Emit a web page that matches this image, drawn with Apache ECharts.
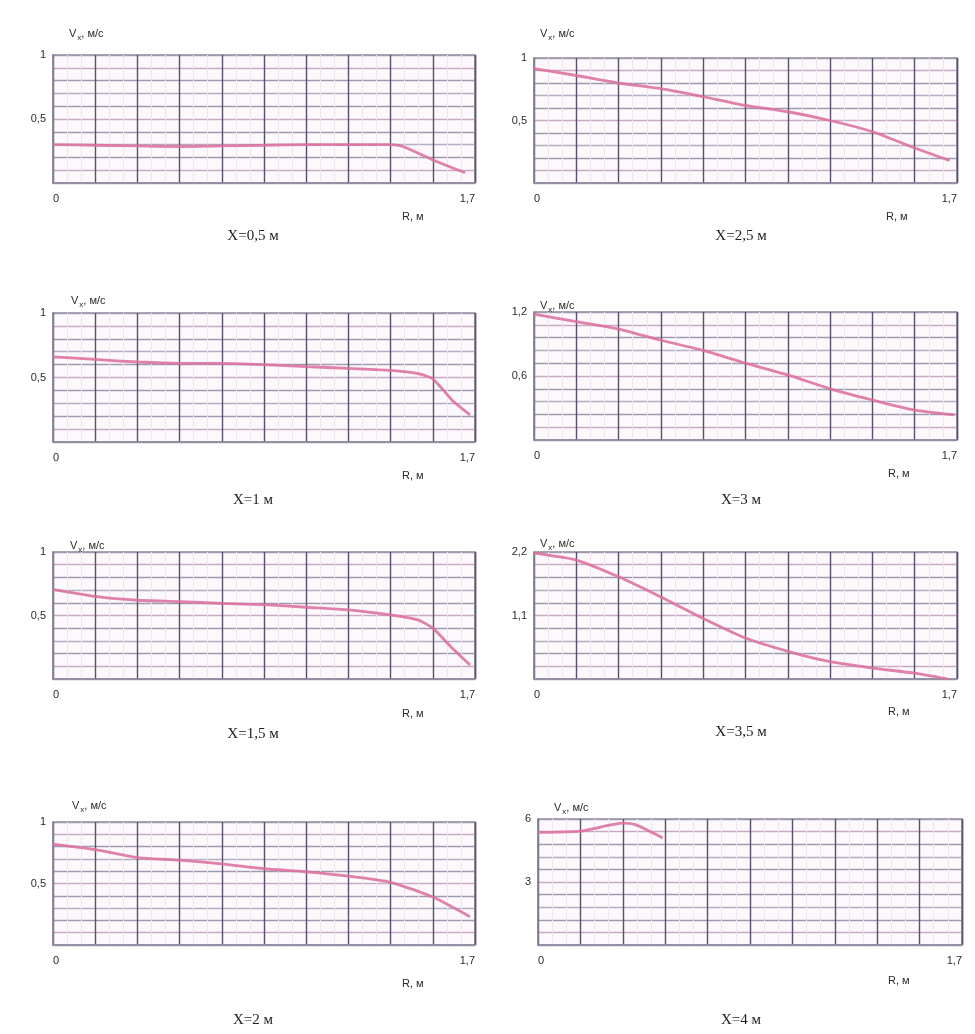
<!DOCTYPE html>
<html>
<head>
<meta charset="utf-8">
<script src="https://cdn.jsdelivr.net/npm/echarts@6/dist/echarts.min.js"></script>
<style>
  html, body { margin: 0; padding: 0; background: #fff; }
  #chart { width: 975px; height: 1034px; }
</style>
</head>
<body>
<div id="chart"></div>
<script>
// Axial velocity profiles Vx(R) at eight distances X along the duct.
const panelTitles = ['X=0,5 м', 'X=2,5 м', 'X=1 м', 'X=3 м', 'X=1,5 м', 'X=3,5 м', 'X=2 м', 'X=4 м'];

// Radius R, м, and velocity Vx, м/с, for each section
const rX05 = [0, 0.17, 0.34, 0.51, 0.68, 0.85, 1.02, 1.19, 1.36, 1.41, 1.53, 1.66];
const vX05 = [0.30, 0.295, 0.29, 0.285, 0.29, 0.295, 0.30, 0.30, 0.30, 0.285, 0.18, 0.08];

const rX25 = [0, 0.17, 0.34, 0.51, 0.68, 0.85, 1.02, 1.19, 1.36, 1.53, 1.67];
const vX25 = [0.915, 0.86, 0.80, 0.755, 0.69, 0.62, 0.57, 0.50, 0.41, 0.28, 0.18];

const rX1 = [0, 0.17, 0.34, 0.51, 0.68, 0.85, 1.02, 1.19, 1.36, 1.47, 1.53, 1.61, 1.68];
const vX1 = [0.66, 0.64, 0.62, 0.61, 0.61, 0.60, 0.585, 0.57, 0.555, 0.53, 0.49, 0.32, 0.21];

const rX3 = [0, 0.17, 0.34, 0.51, 0.68, 0.85, 1.02, 1.19, 1.36, 1.53, 1.69];
const vX3 = [1.18, 1.11, 1.04, 0.935, 0.84, 0.72, 0.61, 0.48, 0.375, 0.28, 0.235];

const rX15 = [0, 0.17, 0.34, 0.51, 0.68, 0.85, 1.02, 1.19, 1.36, 1.47, 1.53, 1.61, 1.68];
const vX15 = [0.705, 0.65, 0.62, 0.61, 0.595, 0.585, 0.565, 0.545, 0.505, 0.465, 0.40, 0.24, 0.11];

const rX35 = [0, 0.17, 0.34, 0.51, 0.68, 0.85, 1.02, 1.19, 1.36, 1.53, 1.66];
const vX35 = [2.18, 2.06, 1.77, 1.42, 1.05, 0.71, 0.48, 0.30, 0.19, 0.10, 0.0];

const rX2 = [0, 0.17, 0.34, 0.51, 0.68, 0.85, 1.02, 1.19, 1.36, 1.53, 1.68];
const vX2 = [0.82, 0.775, 0.71, 0.69, 0.66, 0.62, 0.595, 0.56, 0.51, 0.39, 0.23];

const rX4 = [0, 0.17, 0.34, 0.39, 0.50];
const vX4 = [5.36, 5.42, 5.80, 5.73, 5.10];

// Axis extents and the tick values that carry a label
const yMax = [1, 1, 1, 1.2, 1, 2.2, 1, 6];
const yTickLabels = [[0.5, 1], [0.5, 1], [0.5, 1], [0.6, 1.2], [0.5, 1], [1.1, 2.2], [0.5, 1], [3, 6]];
const xMax = 1.7;
const xTickLabels = [0, 1.7];

const radii = [rX05, rX25, rX1, rX3, rX15, rX35, rX2, rX4];
const speeds = [vX05, vX25, vX1, vX3, vX15, vX35, vX2, vX4];

// Plot rectangles in pixels: [left, top, width, height]
const boxes = [
  [53, 55, 422, 128], [534, 58, 423, 125],
  [53, 313, 422, 129], [534, 312, 423, 128],
  [53, 552, 422, 127], [534, 552, 423, 127],
  [53, 822, 422, 123], [538, 819, 424, 126]
];
// Text anchors: panel caption centre y, "R, м" position, V-axis name position
const captionY = [238, 238, 502, 502, 736, 734, 1022, 1022];
const rNamePos = [[402, 211], [886, 211], [402, 470], [888, 468], [402, 708], [888, 706], [402, 978], [888, 975]];
const vNamePos = [[69, 26], [540, 26], [71, 293], [540, 298], [70, 538], [540, 536], [72, 798], [554, 800]];

const fmt = v => String(+v.toFixed(2)).replace('.', ',');
const near = (list, v) => list.some(t => Math.abs(t - v) < 1e-6);

const grids = [], xAxes = [], yAxes = [], series = [], titles = [];
const axisFont = { fontFamily: 'Liberation Sans, Arial, sans-serif', fontSize: 11, fontWeight: 'normal', color: '#2a2a2a' };

for (let i = 0; i < 8; i++) {
  const [l, t, w, h] = boxes[i];
  grids.push({
    left: l, top: t, width: w, height: h,
    show: true, backgroundColor: '#fdf8fc', borderColor: '#8e8a9e', borderWidth: 1.5
  });
  xAxes.push({
    type: 'value', gridIndex: i, min: 0, max: xMax, interval: xMax / 10,
    axisLine: { show: true, lineStyle: { color: '#8e8a9e', width: 1.5 } },
    axisTick: { show: false },
    axisLabel: {
      ...axisFont, margin: 10,
      formatter: v => near(xTickLabels, v) ? fmt(v) : '',
      showMinLabel: true, showMaxLabel: true,
      alignMinLabel: 'left', alignMaxLabel: 'right'
    },
    splitLine: { show: true, lineStyle: { color: '#55536a', width: 1.4 } },
    minorTick: { show: false, splitNumber: 3 },
    minorSplitLine: { show: true, lineStyle: { color: '#eee5ef', width: 1 } }
  });
  const ym = yMax[i];
  yAxes.push({
    type: 'value', gridIndex: i, min: 0, max: ym, interval: ym / 10,
    axisLine: { show: true, lineStyle: { color: '#8e8a9e', width: 1.5 } },
    axisTick: { show: false },
    axisLabel: {
      ...axisFont, margin: 7,
      formatter: v => (v > 0 && near(yTickLabels[i], v)) ? fmt(v) : ''
    },
    splitLine: {
      show: true,
      lineStyle: { color: ['#9e9ab0', '#c9a9c4', '#9e9ab0', '#b3aec3'], width: 1.4 }
    }
  });
  series.push({
    type: 'line', xAxisIndex: i, yAxisIndex: i,
    data: radii[i].map((r, k) => [r, speeds[i][k]]),
    showSymbol: false, smooth: 0.2,
    lineStyle: { color: '#dc6f9e', width: 2.8, opacity: 0.88 },
    silent: true
  });
  const cx = i % 2 === 0 ? 253 : 741;
  titles.push({
    text: panelTitles[i], left: cx, top: captionY[i] - 9, padding: 0,
    textAlign: 'center',
    textStyle: { fontFamily: 'Liberation Serif, Times New Roman, serif', fontSize: 15, fontWeight: 'normal', color: '#1e1e1e' }
  });
  titles.push({
    text: 'R, м', left: rNamePos[i][0], top: rNamePos[i][1], padding: 0,
    textStyle: { ...axisFont }
  });
  titles.push({
    text: '{v|V}{s|x}{v|, м/с}', left: vNamePos[i][0], top: vNamePos[i][1], padding: 0,
    textStyle: {
      fontWeight: 'normal',
      rich: {
        v: { ...axisFont, lineHeight: 16, verticalAlign: 'middle' },
        s: { ...axisFont, fontSize: 8, lineHeight: 16, verticalAlign: 'bottom', padding: [5, 0, 0, 1] }
      }
    }
  });
}

const chart = echarts.init(document.getElementById('chart'), null, { renderer: 'canvas' });
chart.setOption({
  backgroundColor: '#ffffff',
  animation: false,
  title: titles,
  grid: grids,
  xAxis: xAxes,
  yAxis: yAxes,
  series: series
});
</script>
</body>
</html>
